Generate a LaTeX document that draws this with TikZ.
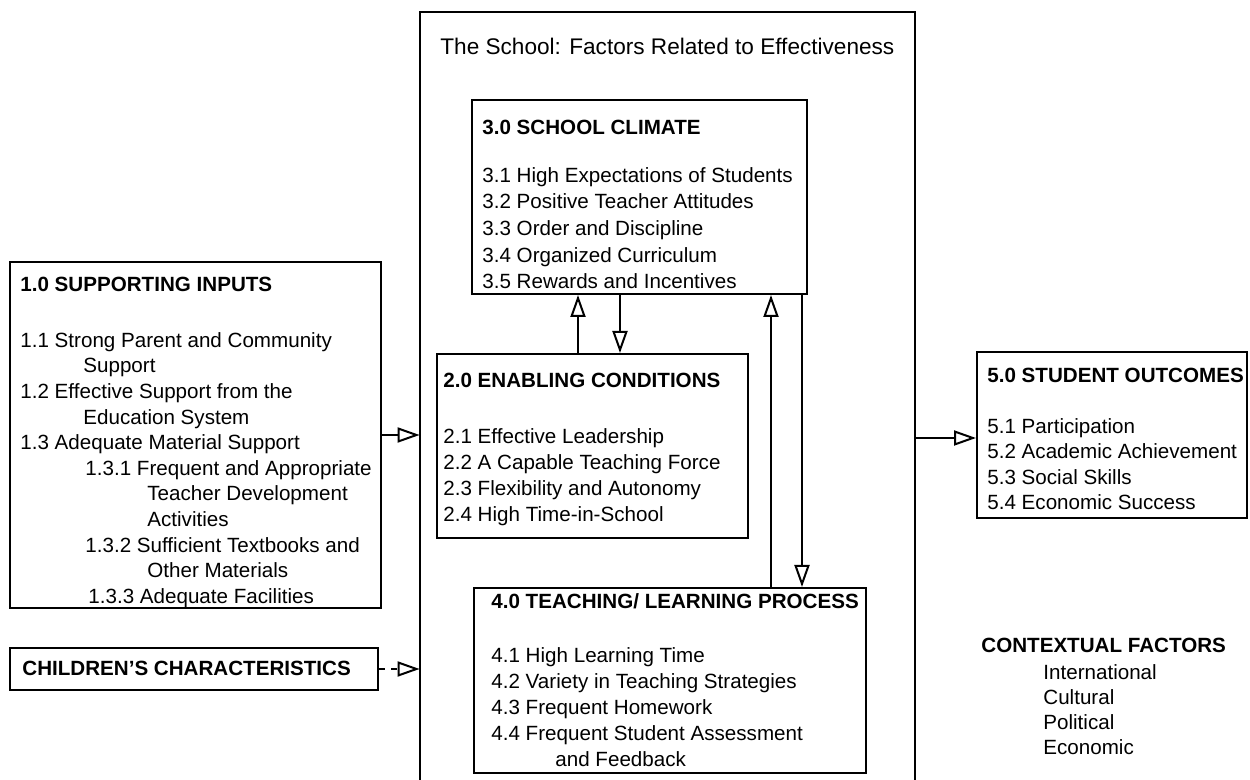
\documentclass[tikz,border=0pt]{standalone}
\usepackage{fontspec}
\setmainfont{Liberation Sans}
\usetikzlibrary{arrows.meta,fit}
\begin{document}
\begin{tikzpicture}[x=0.5pt,y=-0.5pt,
  box/.style={draw, line width=1pt, inner sep=0pt},
  txt/.style={anchor=north west, inner sep=0pt, align=left,
    font=\fontsize{10.3}{13}\selectfont},
  head/.style={txt, font=\fontsize{10.3}{13}\selectfont\bfseries},
  tip/.style={-{Triangle[fill=white, length=11pt, width=7.5pt, line width=1pt]}},
  arr/.style={line width=1pt, tip},
]
\useasboundingbox (0,0) rectangle (1250,780);
\fill[white] (0,0) rectangle (1250,780);

% the school frame, open at the bottom
\node[inner sep=0pt, fit={(420,12) (915,780)}] (school) {};
\draw[line width=1pt] (school.south west) -- (school.north west)
  -- (school.north east) -- (school.south east);
\node[txt, font=\fontsize{11.3}{13.2}\selectfont] (stitle) at (440,38)
  {The School: Factors Related to Effectiveness};

% 1.0 supporting inputs
\node[box, fit={(10,262) (381,608)}] (b1) {};
\node[head] (h1) at (20,277) {1.0 SUPPORTING INPUTS};
\node[txt, font=\fontsize{10.3}{12.8}\selectfont] (t1) at (20,332)
{1.1 Strong Parent and Community\\
\hspace*{31.5pt}Support\\
1.2 Effective Support from the\\
\hspace*{31.5pt}Education System\\
1.3 Adequate Material Support\\
\hspace*{32.5pt}1.3.1 Frequent and Appropriate\\
\hspace*{63.5pt}Teacher Development\\
\hspace*{63.5pt}Activities\\
\hspace*{32.5pt}1.3.2 Sufficient Textbooks and\\
\hspace*{63.5pt}Other Materials\\
\hspace*{34pt}1.3.3 Adequate Facilities};

% children's characteristics
\node[box, fit={(10,648) (378,690)}] (bc) {};
\node[head] (hc) at (22,661) {CHILDREN'S CHARACTERISTICS};

% 3.0 school climate
\node[box, fit={(472,100) (807,294)}] (b3) {};
\node[head] (h3) at (482,120) {3.0 SCHOOL CLIMATE};
\node[txt, font=\fontsize{10.3}{13.3}\selectfont] (t3) at (482,167)
{3.1 High Expectations of Students\\
3.2 Positive Teacher Attitudes\\
3.3 Order and Discipline\\
3.4 Organized Curriculum\\
3.5 Rewards and Incentives};

% 2.0 enabling conditions
\node[box, fit={(437,354) (748,538)}] (b2) {};
\node[head] (h2) at (443,373) {2.0 ENABLING CONDITIONS};
\node[txt] (t2) at (443,428) {2.1 Effective Leadership\\
2.2 A Capable Teaching Force\\
2.3 Flexibility and Autonomy\\
2.4 High Time-in-School};

% 4.0 teaching / learning process
\node[box, fit={(474,588) (866,773)}] (b4) {};
\node[head] (h4) at (491,593) {4.0 TEACHING/ LEARNING PROCESS};
\node[txt] (t4) at (491,647) {4.1 High Learning Time\\
4.2 Variety in Teaching Strategies\\
4.3 Frequent Homework\\
4.4 Frequent Student Assessment\\
\hspace*{32pt}and Feedback};

% 5.0 student outcomes
\node[box, fit={(977,352) (1247,518)}] (b5) {};
\node[head] (h5) at (987,368) {5.0 STUDENT OUTCOMES};
\node[txt, font=\fontsize{10.3}{12.7}\selectfont] (t5) at (987,418)
{5.1 Participation\\
5.2 Academic Achievement\\
5.3 Social Skills\\
5.4 Economic Success};

% contextual factors
\node[head] (hx) at (981,638) {CONTEXTUAL FACTORS};
\node[txt, font=\fontsize{10.3}{12.6}\selectfont] (tx) at (1043,664)
  {International\\ Cultural\\ Political\\ Economic};

% connector positions
\coordinate (yA) at (0,435);
\coordinate (yC) at (0,669);
\coordinate (yO) at (0,438);
\coordinate (xa) at (578,0);
\coordinate (xb) at (620,0);
\coordinate (xc) at (771,0);
\coordinate (xd) at (802,0);

\draw[arr] (b1.east |- yA) -- (school.west |- yA);
\draw[arr, dashed] (bc.east |- yC) -- (school.west |- yC);
\draw[arr] (b2.north -| xa) -- (b3.south -| xa);
\draw[arr] (b3.south -| xb) -- (b2.north -| xb);
\draw[arr] (b4.north -| xc) -- (b3.south -| xc);
\draw[arr] (b3.south -| xd) -- (b4.north -| xd);
\draw[arr] (school.east |- yO) -- (b5.west |- yO);
\end{tikzpicture}
\end{document}
